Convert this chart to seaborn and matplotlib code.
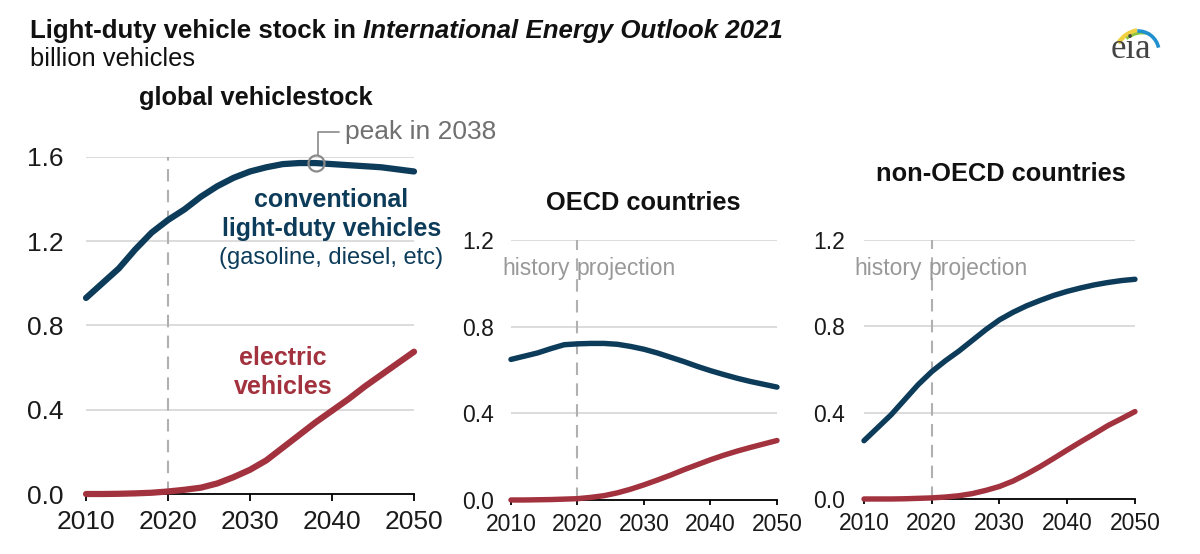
import matplotlib
matplotlib.use("Agg")
import matplotlib.pyplot as plt
import seaborn as sns
import pandas as pd
from matplotlib.patches import Arc

# ---------------- data (billion vehicles) ----------------
years = [2010, 2012, 2014, 2016, 2018, 2020, 2022, 2024, 2026, 2028, 2030,
         2032, 2034, 2036, 2038, 2040, 2042, 2044, 2046, 2048, 2050]

global_conv = [0.93, 1.00, 1.07, 1.16, 1.24, 1.30, 1.35, 1.41, 1.46, 1.50, 1.53,
               1.55, 1.565, 1.57, 1.57, 1.565, 1.56, 1.555, 1.55, 1.54, 1.53]
global_elec = [0.0, 0.0, 0.001, 0.003, 0.006, 0.012, 0.02, 0.03, 0.05, 0.08, 0.115,
               0.16, 0.22, 0.28, 0.34, 0.395, 0.45, 0.51, 0.565, 0.62, 0.675]

oecd_conv = [0.65, 0.665, 0.68, 0.70, 0.718, 0.722, 0.724, 0.724, 0.72, 0.71, 0.697,
             0.68, 0.66, 0.64, 0.618, 0.598, 0.58, 0.563, 0.548, 0.535, 0.522]
oecd_elec = [0.0, 0.0, 0.001, 0.002, 0.004, 0.006, 0.012, 0.02, 0.033, 0.05, 0.07,
             0.092, 0.115, 0.14, 0.163, 0.186, 0.207, 0.226, 0.243, 0.259, 0.275]

nonoecd_conv = [0.27, 0.33, 0.39, 0.46, 0.53, 0.59, 0.64, 0.685, 0.735, 0.785, 0.83,
                0.865, 0.895, 0.92, 0.943, 0.962, 0.978, 0.992, 1.003, 1.012, 1.018]
nonoecd_elec = [0.0, 0.0, 0.0, 0.001, 0.003, 0.005, 0.009, 0.015, 0.025, 0.04, 0.058,
                0.083, 0.115, 0.15, 0.188, 0.227, 0.265, 0.302, 0.34, 0.372, 0.405]

x_ticks = [2010, 2020, 2030, 2040, 2050]
y_ticks_global = [0.0, 0.4, 0.8, 1.2, 1.6]
y_ticks_region = [0.0, 0.4, 0.8, 1.2]
panel_titles = ["global vehiclestock", "OECD countries", "non-OECD countries"]
peak_year = 2038
peak_value = 1.57

# ---------------- style ----------------
sns.set_theme(style="white")
plt.rcParams['font.family'] = ['Liberation Sans', 'DejaVu Sans']

NAVY = '#0d3c5b'
RED = '#a3323f'
GRAY = '#8c8c8c'
GRID = '#d9d9d9'
DASH = '#b0b0b0'

fig = plt.figure(figsize=(12, 5.54), dpi=100)

panels = [
    dict(rect=[0.0717, 0.1083, 0.2733, 0.6088], conv=global_conv, elec=global_elec,
         ymax=1.6, yticks=y_ticks_global, fs=19, lw=4.5, ypad=16, ticklen=5, xpad=6.5),
    dict(rect=[0.4258, 0.0975, 0.2217, 0.4684], conv=oecd_conv, elec=oecd_elec,
         ymax=1.2, yticks=y_ticks_region, fs=16.5, lw=3.9, ypad=12.5, ticklen=3.6, xpad=5.5),
    dict(rect=[0.7200, 0.0993, 0.2258, 0.4675], conv=nonoecd_conv, elec=nonoecd_elec,
         ymax=1.2, yticks=y_ticks_region, fs=16.5, lw=3.9, ypad=14, ticklen=3.6, xpad=5.5),
]

axes = []
for p in panels:
    ax = fig.add_axes(p['rect'])
    axes.append(ax)
    df = pd.DataFrame({'year': years, 'conv': p['conv'], 'elec': p['elec']})
    ax.axvline(2020, color=DASH, lw=1.5, ls=(0, (6, 4)), zorder=1)
    sns.lineplot(data=df, x='year', y='conv', ax=ax, color=NAVY, linewidth=p['lw'], zorder=3)
    sns.lineplot(data=df, x='year', y='elec', ax=ax, color=RED, linewidth=p['lw'], zorder=3)
    for ln in ax.lines:
        ln.set_clip_on(False)
    ax.set_xlim(2010, 2050)
    ax.set_ylim(0, p['ymax'])
    ax.set_xticks(x_ticks)
    ax.set_yticks(p['yticks'])
    ax.set_yticklabels([f"{v:.1f}" for v in p['yticks']])
    ax.set_xlabel('')
    ax.set_ylabel('')
    ax.yaxis.grid(True, color=GRID, lw=1.3)
    ax.xaxis.grid(False)
    ax.set_axisbelow(True)
    for s in ['top', 'right', 'left']:
        ax.spines[s].set_visible(False)
    ax.spines['bottom'].set_color('black')
    ax.spines['bottom'].set_linewidth(1.3)
    ax.tick_params(axis='x', direction='out', length=p['ticklen'], width=1.3,
                   color='black', labelsize=p['fs'], pad=p['xpad'], bottom=True)
    ax.tick_params(axis='y', length=0, labelsize=p['fs'], pad=p['ypad'])
    for lab in ax.get_xticklabels() + ax.get_yticklabels():
        lab.set_color('#1a1a1a')

# ---------------- annotations ----------------
ax0, ax1, ax2 = axes
ax0.text(2039.9, 1.395, "conventional", color=NAVY, fontsize=18, fontweight='bold',
         ha='center', va='center')
ax0.text(2039.9, 1.257, "light-duty vehicles", color=NAVY, fontsize=18, fontweight='bold',
         ha='center', va='center')
ax0.text(2039.9, 1.12, "(gasoline, diesel, etc)", color=NAVY, fontsize=17,
         ha='center', va='center')
ax0.text(2034.0, 0.647, "electric", color=RED, fontsize=18, fontweight='bold',
         ha='center', va='center')
ax0.text(2034.0, 0.509, "vehicles", color=RED, fontsize=18, fontweight='bold',
         ha='center', va='center')

# peak marker
ax0.plot([peak_year], [peak_value], marker='o', ms=11.5, mfc='none', mec='#8a8a8a',
         mew=1.6, clip_on=False, zorder=5)
ax0.plot([peak_year + 0.3, peak_year + 0.3, 2040.9], [peak_value + 0.04, 1.718, 1.718],
         color='#8a8a8a', lw=1.2, clip_on=False)
ax0.text(2041.6, 1.718, "peak in 2038", color='#707070', fontsize=19,
         ha='left', va='center')

for ax, hx, px in [(ax1, 2018.9, 2019.8), (ax2, 2018.5, 2019.6)]:
    ax.text(hx, 1.069, "history", color='#999999', fontsize=16.5, ha='right', va='center')
    ax.text(px, 1.069, "projection", color='#999999', fontsize=16.5, ha='left', va='center')

# panel titles
fig.text(0.2133, 0.823, panel_titles[0], fontsize=18.3, fontweight='bold', ha='center',
         va='center', color='#111111')
fig.text(0.536, 0.6336, panel_titles[1], fontsize=18.3, fontweight='bold', ha='center',
         va='center', color='#111111')
fig.text(0.834, 0.686, panel_titles[2], fontsize=18.3, fontweight='bold', ha='center',
         va='center', color='#111111')

# main title with italic part
renderer = fig.canvas.get_renderer()
W = fig.get_figwidth() * fig.dpi
x = 0.025
ty = 0.932
parts = [("Light-duty vehicle stock in ", 'normal'),
         ("International Energy Outlook 2021", 'italic')]
for txt, style in parts:
    t = fig.text(x, ty, txt, fontsize=18.6, fontweight='bold', fontstyle=style,
                 ha='left', va='baseline', color='#111111')
    bb = t.get_window_extent(renderer)
    x = bb.x1 / W
fig.text(0.025, 0.881, "billion vehicles", fontsize=18.4, ha='left', va='baseline',
         color='#111111')

# eia logo (axes in pixel-like units, y upward)
lax = fig.add_axes([1100 / 1200, (554 - 64) / 554, 65 / 1200, 44 / 554])
lax.set_xlim(1100, 1165)
lax.set_ylim(554 - 64, 554 - 20)
lax.axis('off')
lax.text(1131, 554 - 58, "eia", fontsize=25, family=['Liberation Serif', 'DejaVu Serif'],
         color='#444444', ha='center', va='baseline')
lax.add_patch(Arc((1142, 496), 56, 56, theta1=100, theta2=148, color='#f0d040', lw=3.2))
lax.add_patch(Arc((1143, 494), 54, 54, theta1=75, theta2=128, color='#8cc63f', lw=2.0))
lax.add_patch(Arc((1138, 502), 42, 42, theta1=12, theta2=92, color='#1f8fcf', lw=2.6))

fig.savefig("out.png", dpi=100)
